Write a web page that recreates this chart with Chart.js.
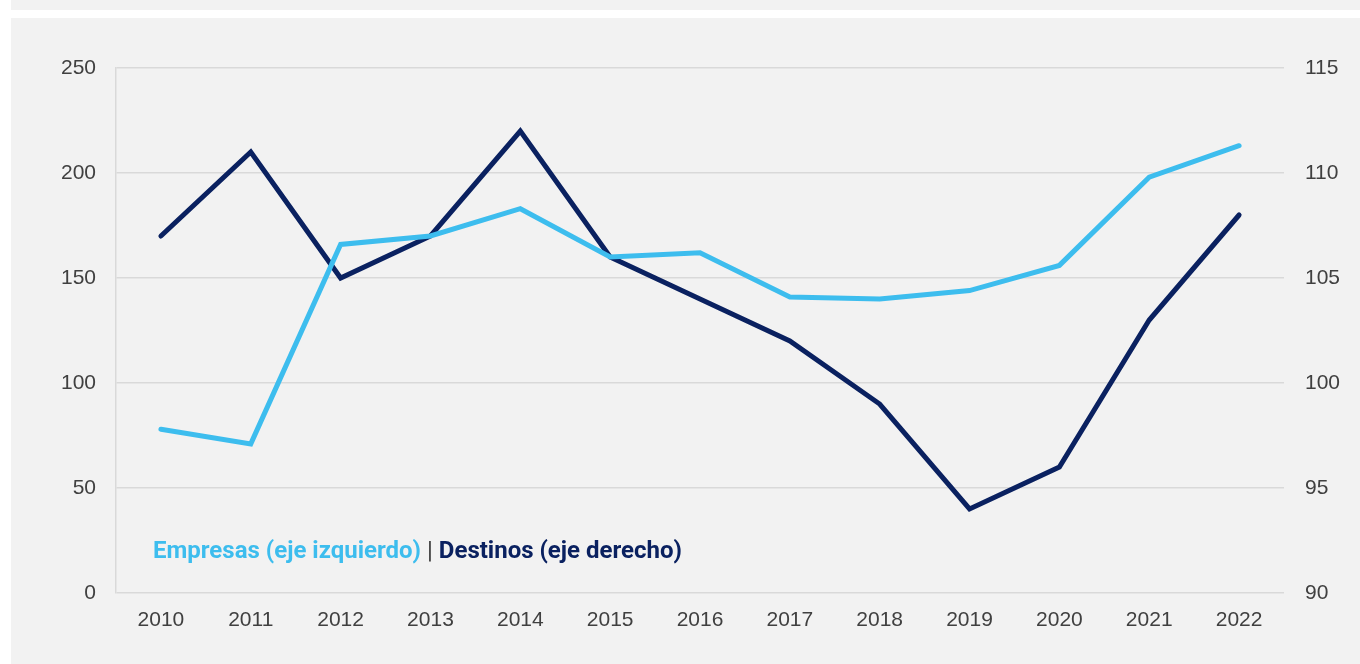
<!DOCTYPE html>
<html>
<head>
<meta charset="utf-8">
<script src="https://cdn.jsdelivr.net/npm/chart.js@4"></script>
<style>
  html, body { margin: 0; padding: 0; background: #ffffff; }
  #topBand { position: absolute; left: 11px; top: 0; width: 1349px; height: 10px; background: #f2f2f2; }
  #panel { position: absolute; left: 11px; top: 18px; width: 1349px; height: 646px; background: #f2f2f2; }
  #legend {
    position: absolute; left: 142px; top: 517px;
    font-family: Roboto, sans-serif; font-weight: bold; font-size: 24px;
    line-height: 30px;
    white-space: nowrap;
  }
  #legend .emp { color: #3dbdee; }
  #legend .sep { color: #404040; font-weight: normal; }
  #legend .des { color: #0a2160; }
</style>
</head>
<body>
<div id="topBand"></div>
<div id="panel">
  <canvas id="chart" width="1349" height="646"></canvas>
  <div id="legend"><span class="emp">Empresas (eje izquierdo)</span> <span class="sep">|</span> <span class="des">Destinos (eje derecho)</span></div>
</div>
<script>
// Datos del gráfico
const years = ['2010', '2011', '2012', '2013', '2014', '2015', '2016', '2017', '2018', '2019', '2020', '2021', '2022'];
const empresas = [78, 71, 166, 170, 183, 160, 162, 141, 140, 144, 156, 198, 213];
const destinos = [107, 111, 105, 107, 112, 106, 104, 102, 99, 94, 96, 103, 108];

const tickFont = { family: "'Liberation Sans', Arial, sans-serif", size: 21 };
const tickColor = '#404040';
const gridColor = '#d9d9d9';

const ctx = document.getElementById('chart').getContext('2d');

new Chart(ctx, {
    type: 'line',
    data: {
        labels: years,
        datasets: [
            {
                label: 'Empresas (eje izquierdo)',
                data: empresas,
                yAxisID: 'y',
                borderColor: '#3dbdee',
                borderWidth: 5,
                pointRadius: 0,
                tension: 0,
                borderCapStyle: 'round',
                borderJoinStyle: 'miter'
            },
            {
                label: 'Destinos (eje derecho)',
                data: destinos,
                yAxisID: 'y1',
                borderColor: '#0a2160',
                borderWidth: 5,
                pointRadius: 0,
                tension: 0,
                borderCapStyle: 'round',
                borderJoinStyle: 'miter'
            }
        ]
    },
    options: {
        responsive: false,
        animation: false,
        layout: { padding: { top: 50, left: 0, right: 0, bottom: 0 } },
        plugins: { legend: { display: false }, tooltip: { enabled: false } },
        scales: {
            x: {
                offset: true,
                grid: { display: false, drawTicks: false },
                border: { display: false },
                ticks: { color: tickColor, font: tickFont, padding: 15, maxRotation: 0 },
                afterFit: (axis) => { axis.height = 71; }
            },
            y: {
                position: 'left',
                min: 0, max: 250,
                ticks: { stepSize: 50, color: tickColor, font: tickFont, padding: 20 },
                grid: { color: gridColor, lineWidth: 1.5, drawTicks: false },
                border: { display: true, color: gridColor, width: 1.5 },
                afterFit: (axis) => { axis.width = 105; }
            },
            y1: {
                position: 'right',
                min: 90, max: 115,
                ticks: { stepSize: 5, color: tickColor, font: tickFont, padding: 21 },
                grid: { display: false, drawTicks: false },
                border: { display: false },
                afterFit: (axis) => { axis.width = 76; }
            }
        }
    }
});
</script>
</body>
</html>
